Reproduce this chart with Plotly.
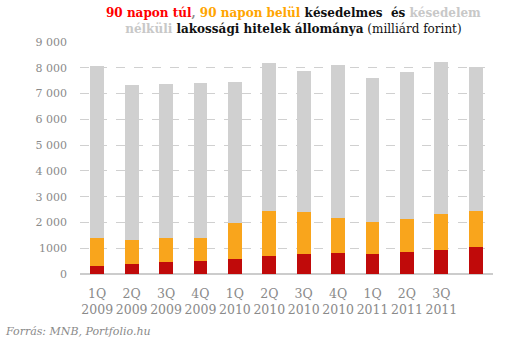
import plotly.graph_objects as go

categories = ["1Q<br>2009", "2Q<br>2009", "3Q<br>2009", "4Q<br>2009", "1Q<br>2010", "2Q<br>2010",
              "3Q<br>2010", "4Q<br>2010", "1Q<br>2011", "2Q<br>2011", "3Q<br>2011", " "]
over90 = [310, 390, 465, 500, 580, 700, 780, 810, 780, 850, 930, 1050]
within90 = [1090, 930, 935, 900, 1400, 1740, 1620, 1360, 1240, 1280, 1400, 1390]
notlate = [6660, 6010, 5960, 6000, 5460, 5740, 5470, 5930, 5580, 5700, 5890, 5580]
yticks = [0, 1000, 2000, 3000, 4000, 5000, 6000, 7000, 8000, 9000]
ytick_text = ["0", "1000", "2 000", "3 000", "4 000", "5 000", "6 000", "7 000", "8 000", "9 000"]

x = list(range(len(categories)))
fig = go.Figure()
for vals, col in [(over90, "#c00a0a"), (within90, "#f9a51c"), (notlate, "#d0d0d0")]:
    fig.add_trace(go.Bar(x=x, y=vals, marker=dict(color=col, line=dict(width=0)), width=0.4))

fig.update_layout(
    barmode="stack", showlegend=False, width=531, height=342,
    margin=dict(l=80, r=38, t=42, b=68),
    plot_bgcolor="white", paper_bgcolor="white",
    font=dict(family="DejaVu Serif", color="#8a8a8a", size=11),
    xaxis=dict(tickmode="array", tickvals=x, ticktext=categories, range=[-0.5, 11.5],
               showgrid=False, zeroline=False, showline=False, ticks="",
               ticklabelstandoff=10,
               tickfont=dict(size=12.5, color="#8a8a8a")),
    yaxis=dict(range=[0, 9000], tickmode="array", tickvals=yticks, ticktext=ytick_text,
               showgrid=True, gridcolor="#d0d0d0", griddash="dash", gridwidth=1,
               zeroline=True, zerolinecolor="#cccccc", zerolinewidth=1.5,
               ticks="", ticklabelstandoff=12, tickfont=dict(size=11, color="#8a8a8a")),
)
title = ("<b><span style='color:#ff0000'>90 napon túl</span>, "
         "<span style='color:#ffa500'>90 napon belül</span> "
         "<span style='color:#111111'>késedelmes  és</span> "
         "<span style='color:#c8c8c8'>késedelem</span></b><br>"
         "<b><span style='color:#c8c8c8'>nélküli</span> "
         "<span style='color:#111111'>lakossági hitelek állománya</span></b> "
         "<span style='color:#111111'>(milliárd forint)</span>")
fig.add_annotation(text=title, xref="paper", yref="paper", x=0.518, y=1.0, yshift=38,
                   xanchor="center", yanchor="top", showarrow=False,
                   font=dict(family="DejaVu Serif", size=12))
fig.add_annotation(text="<i>Forrás: MNB, Portfolio.hu</i>", xref="paper", yref="paper",
                   x=0, xshift=-77, y=0, yshift=-49, xanchor="left", yanchor="top",
                   showarrow=False, font=dict(family="DejaVu Serif", size=11, color="#8a8a8a"))
fig.write_html("out.html")
